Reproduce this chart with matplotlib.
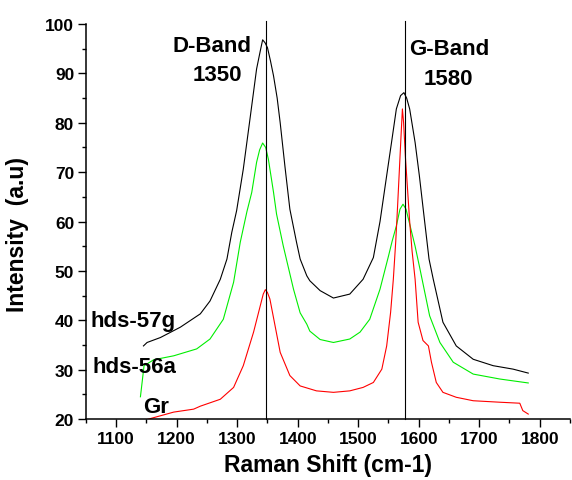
import matplotlib.pyplot as plt
import numpy as np

plt.rcParams['font.family'] = ['Liberation Sans', 'DejaVu Sans']
plt.rcParams['font.weight'] = 'bold'

# hds-57g (black)
x_57g = [1145, 1151, 1173, 1206, 1239, 1255, 1272, 1283, 1291, 1299, 1310, 1321,
         1332, 1338, 1342, 1346, 1350, 1355, 1360, 1366, 1371, 1379, 1387, 1398,
         1404, 1415, 1420, 1437, 1459, 1486, 1508, 1525, 1536, 1547, 1555, 1563,
         1570, 1575.5, 1580, 1585, 1594, 1601, 1609, 1617, 1624, 1640, 1662, 1690,
         1723, 1756, 1781]
y_57g = [34.8, 35.5, 36.5, 38.6, 41.3, 43.9, 48.3, 52.4, 57.8, 62.2, 70.6, 80.7,
         90.9, 94.5, 96.8, 96.2, 95.2, 92.5, 89.5, 85.0, 80.0, 71.0, 62.5, 55.8,
         52.4, 49.0, 48.0, 46.0, 44.5, 45.3, 48.3, 52.7, 60.0, 69.3, 76.0, 82.8,
         85.5, 86.1, 85.0, 82.8, 76.0, 69.3, 60.8, 52.4, 48.3, 39.6, 34.8, 32.1,
         30.8, 30.1, 29.3]

# hds-56a (green)
x_56a = [1140, 1146, 1162, 1195, 1233, 1255, 1277, 1294, 1305, 1316, 1324, 1332,
         1337, 1342, 1347, 1351.5, 1360, 1365, 1376, 1393, 1404, 1415, 1420, 1437,
         1459, 1486, 1503, 1519, 1536, 1550, 1556, 1563, 1569, 1574, 1579, 1588,
         1594, 1602, 1618, 1635, 1657, 1690, 1734, 1781]
y_56a = [24.5, 30.8, 32.0, 32.8, 34.2, 36.2, 40.2, 47.7, 55.8, 62.0, 65.9, 72.0,
         74.5, 75.9, 75.0, 72.6, 65.9, 61.5, 55.1, 46.3, 41.5, 39.2, 37.8, 36.1,
         35.5, 36.2, 37.6, 40.2, 46.3, 53.0, 56.0, 59.1, 62.5, 63.5, 62.5, 58.0,
         55.0, 50.4, 40.9, 35.5, 31.5, 29.1, 28.1, 27.3]

# Gr (red)
x_gr = [1148, 1195, 1228, 1239, 1272, 1294, 1310, 1327, 1338, 1343, 1346.5, 1350,
        1354, 1362.5, 1371, 1387, 1404, 1431, 1459, 1486, 1508, 1525, 1539, 1547,
        1553.5, 1558, 1562, 1565, 1568, 1571, 1573, 1575, 1578, 1580, 1585, 1589,
        1594, 1599, 1607, 1616, 1621, 1629, 1640, 1662, 1690, 1734, 1767, 1772,
        1781]
y_gr = [19.8, 21.4, 22.0, 22.6, 24.0, 26.4, 30.8, 37.6, 42.9, 45.3, 46.2, 45.6,
        44.3, 38.9, 33.5, 28.8, 26.7, 25.7, 25.4, 25.7, 26.4, 27.4, 30.1, 34.8,
        41.6, 48.3, 56.0, 63.0, 70.5, 78.0, 82.8, 80.0, 73.0, 69.3, 60.0, 54.0,
        48.3, 39.6, 35.9, 34.8, 31.5, 27.4, 25.4, 24.4, 23.7, 23.4, 23.2, 21.7,
        21.0]

band_pos = [1347.6, 1577]

x_ticks = list(range(1100, 1801, 100))
y_ticks = list(range(20, 101, 10))

fig = plt.figure(figsize=(5.72, 4.81), dpi=100)
ax = fig.add_axes([0.1503, 0.1268, 0.8462, 0.8212])

ax.plot(x_57g, y_57g, color='black', linewidth=0.8)
ax.plot(x_56a, y_56a, color='#00ee00', linewidth=0.8)
ax.plot(x_gr, y_gr, color='#ff0000', linewidth=0.8)

for b in band_pos:
    ax.plot([b, b], [20, 100.7], color='black', linewidth=0.8, clip_on=False)

ax.set_xlim(1050, 1850)
ax.set_ylim(20, 100)
ax.set_xticks(x_ticks, labels=[str(t) for t in x_ticks],
              fontsize=12.5, fontweight='bold')
ax.set_xticks(np.arange(1050, 1851, 50), minor=True)
ax.set_yticks(y_ticks, labels=[str(t) for t in y_ticks],
              fontsize=12.5, fontweight='bold')
ax.set_yticks(np.arange(20, 101, 5), minor=True)

ax.spines['top'].set_visible(False)
ax.spines['right'].set_visible(False)
for s in ['left', 'bottom']:
    ax.spines[s].set_linewidth(1.1)
ax.tick_params(which='major', direction='out', length=5.5, width=1.0, pad=3)
ax.tick_params(which='minor', direction='out', length=3, width=1.0)

ax.set_xlabel('Raman Shift (cm-1)', fontsize=16.5, fontweight='bold', labelpad=5)
ax.set_ylabel('Intensity  (a.u)', fontsize=16.5, fontweight='bold')
ax.yaxis.set_label_coords(-0.118, 0.47)

ax.text(1258, 94.6, 'D-Band', fontsize=16, fontweight='bold', ha='center')
ax.text(1267, 88.6, '1350', fontsize=16, fontweight='bold', ha='center')
ax.text(1651, 93.9, 'G-Band', fontsize=16, fontweight='bold', ha='center')
ax.text(1649, 87.8, '1580', fontsize=16, fontweight='bold', ha='center')

ax.text(1057, 38.8, 'hds-57g', fontsize=16, fontweight='bold')
ax.text(1060, 29.5, 'hds-56a', fontsize=16, fontweight='bold')
ax.text(1144.6, 21.4, 'Gr', fontsize=16, fontweight='bold')

fig.savefig('out.png', dpi=100)
